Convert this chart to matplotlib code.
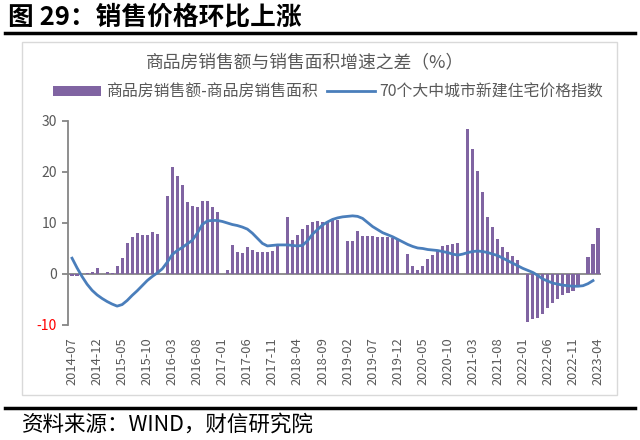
import numpy as np
import pandas as pd
import matplotlib
matplotlib.use("Agg")
import matplotlib.pyplot as plt
from matplotlib.lines import Line2D
from matplotlib.patches import Rectangle, Patch

plt.rcParams['font.family'] = ['Noto Sans CJK SC', 'DejaVu Sans']

nan = np.nan

# month axis: 2014-07 .. 2023-04
months = pd.period_range("2014-07", "2023-04", freq="M").strftime("%Y-%m").tolist()

# 商品房销售额 - 商品房销售面积 (累计增速之差, %), January missing each year
sales_gap = [
    -0.3, -0.3, -0.1, 0.1, 0.3, 1.2,                                   # 2014-07..12
    nan, 0.4, 0.1, 1.6, 3.2, 6.0, 7.2, 8.0, 7.7, 7.6, 8.2, 7.8,        # 2015
    nan, 15.3, 21.0, 19.3, 17.5, 14.2, 13.3, 13.1, 14.3, 14.3, 13.2, 12.2,  # 2016
    nan, 0.7, 5.6, 4.3, 4.2, 5.3, 4.8, 4.4, 4.3, 4.4, 4.6, 5.9,        # 2017
    nan, 11.1, 6.7, 7.6, 8.8, 9.7, 10.1, 10.3, 10.2, 10.2, 10.5, 10.6, # 2018
    nan, 6.4, 6.4, 8.4, 7.5, 7.4, 7.4, 7.3, 7.3, 7.3, 7.1, 6.8,        # 2019
    nan, 3.9, 1.6, 0.7, 1.6, 2.9, 3.7, 4.6, 5.4, 5.7, 5.9, 6.0,        # 2020
    nan, 28.4, 24.6, 20.1, 16.0, 11.1, 9.2, 6.9, 5.2, 4.4, 3.6, 2.7,   # 2021
    nan, -9.5, -8.8, -8.6, -7.8, -6.7, -5.6, -4.9, -4.1, -3.8, -3.3, -2.5,  # 2022
    nan, 3.4, 5.8, 9.1,                                                # 2023-01..04
]

# 70个大中城市新建住宅价格指数
price_index = [
    3.1, 1.2, -0.5, -2.0, -3.2, -4.1,
    -4.8, -5.4, -5.9, -6.3, -6.0, -5.2, -4.2, -3.3, -2.3, -1.3, -0.5, 0.2,
    1.0, 2.3, 3.8, 4.6, 5.2, 5.9, 6.6, 8.0, 9.7, 10.4, 10.5, 10.5,
    10.3, 10.0, 9.7, 9.5, 9.2, 8.8, 8.0, 7.0, 6.0, 5.5, 5.6, 5.7,
    5.7, 5.7, 5.6, 5.5, 5.6, 6.5, 7.8, 8.7, 9.6, 10.2, 10.7, 11.0,
    11.2, 11.3, 11.4, 11.3, 10.9, 10.1, 9.3, 8.7, 8.1, 7.7, 7.3, 6.8,
    6.3, 5.8, 5.4, 5.1, 5.0, 4.8, 4.7, 4.6, 4.4, 4.2, 3.9, 3.7,
    3.9, 4.2, 4.4, 4.5, 4.4, 4.2, 3.9, 3.6, 3.1, 2.6, 2.1, 1.6,
    1.1, 0.7, 0.3, -0.3, -1.0, -1.4, -1.8, -2.0, -2.2, -2.3, -2.4, -2.4,
    -2.3, -1.9, -1.3, nan,
]

bar_color = '#8064A2'
line_color = '#4A7EBB'
axis_gray = '#868686'
text_gray = '#595959'

fig = plt.figure(figsize=(6.4, 4.4), dpi=100)

# header and footer
fig.text(0.012, 0.962, "图 29：销售价格环比上涨", fontsize=18.5, fontweight='bold',
         va='center', ha='left', color='black')
fig.add_artist(Line2D([0.008, 0.992], [0.924, 0.924], color='black', lw=2.5,
                      transform=fig.transFigure))
fig.add_artist(Line2D([0.008, 0.992], [0.073, 0.073], color='black', lw=2.5,
                      transform=fig.transFigure))
fig.text(0.034, 0.034, "资料来源：WIND，财信研究院", fontsize=15.5, style='italic',
         va='center', ha='left', color='black')

# chart box
fig.add_artist(Rectangle((0.035, 0.102), 0.929, 0.802, transform=fig.transFigure,
                         fill=False, edgecolor='#D9D9D9', lw=1))

fig.text(0.477, 0.858, "商品房销售额与销售面积增速之差（%）", fontsize=12.8,
         ha='center', va='center', color=text_gray)

ax = fig.add_axes([0.1063, 0.2614, 0.832, 0.4636])
x = np.arange(len(months))
ax.bar(x, sales_gap, width=0.62, color=bar_color, zorder=2)
ax.plot(x, price_index, color=line_color, lw=2, zorder=3)
ax.axhline(0, color=axis_gray, lw=1.3, zorder=1)

ax.set_xlim(-0.8, 105.5)
ax.set_ylim(-10, 30)
ax.set_yticks([-10, 0, 10, 20, 30])
ax.set_yticklabels(['-10', '0', '10', '20', '30'])
ax.tick_params(axis='y', colors=axis_gray, labelcolor=text_gray, labelsize=10,
               length=4, width=1.3, direction='out', pad=4)
ax.get_yticklabels()[0].set_color('red')

ax.set_xticks(x[::5])
ax.set_xticklabels(months[::5], rotation=90, fontsize=9.3, color=text_gray)
ax.tick_params(axis='x', length=0, pad=9)

for s in ['top', 'right', 'bottom']:
    ax.spines[s].set_visible(False)
ax.spines['left'].set_color(axis_gray)
ax.spines['left'].set_linewidth(1.3)

handles = [Patch(facecolor=bar_color, edgecolor='none'),
           Line2D([0], [0], color=line_color, lw=2)]
fig.legend(handles, ["商品房销售额-商品房销售面积", "70个大中城市新建住宅价格指数"],
           loc='center', bbox_to_anchor=(0.513, 0.791), ncol=2, frameon=False,
           fontsize=11.4, handlelength=3.0, handleheight=0.6, handletextpad=0.3,
           columnspacing=0.6, labelcolor=text_gray)

fig.savefig("out.png", dpi=100)
